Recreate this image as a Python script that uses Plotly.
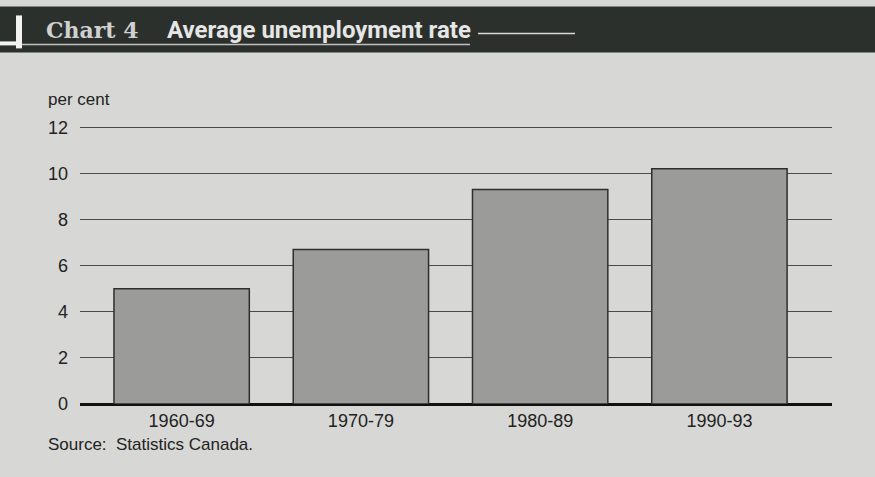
import plotly.graph_objects as go

# Data
periods = ["1960-69", "1970-79", "1980-89", "1990-93"]
rates = [5.0, 6.7, 9.3, 10.2]
y_ticks = [0, 2, 4, 6, 8, 10, 12]

W, H = 875, 477
YMAX = 12.1
L, R, B = 80, 832, 404  # plot area in pixels
T = B - YMAX * (404 - 127) / 12


def px(x):
    return (x - L) / (R - L)


def py(y):
    return (B - y) / (B - T)


bg = "#d7d7d5"
band = "#2c302c"

fig = go.Figure(go.Bar(
    x=periods, y=rates,
    marker=dict(color="#9b9b99", line=dict(color="#2e2e2e", width=1.5)),
    width=0.755,
))

shapes = [
    # dark header band
    dict(type="rect", xref="paper", yref="paper", x0=px(0), x1=px(W), y0=py(52), y1=py(6),
         fillcolor=band, line_width=0, layer="above"),
    # white bracket on the left
    dict(type="rect", xref="paper", yref="paper", x0=px(16), x1=px(22), y0=py(48), y1=py(15),
         fillcolor="#f2f2f2", line_width=0, layer="above"),
    dict(type="rect", xref="paper", yref="paper", x0=px(0), x1=px(22), y0=py(45), y1=py(41),
         fillcolor="#f2f2f2", line_width=0, layer="above"),
    # rule under the title
    dict(type="line", xref="paper", yref="paper", x0=px(22), x1=px(470), y0=py(44), y1=py(44),
         line=dict(color="#bfbfbf", width=1.5), layer="above"),
    dict(type="line", xref="paper", yref="paper", x0=px(478), x1=px(575), y0=py(33), y1=py(33),
         line=dict(color="#d8d8d8", width=1.5), layer="above"),
]

annotations = [
    dict(text="<b>Chart 4</b>", x=px(44), y=py(30), xref="paper", yref="paper",
         xanchor="left", yanchor="middle", showarrow=False,
         font=dict(family="DejaVu Serif", size=22, color="#d0d0d0")),
    dict(text="<b>Average unemployment rate</b>", x=px(165), y=py(30), xref="paper", yref="paper",
         xanchor="left", yanchor="middle", showarrow=False,
         font=dict(family="Liberation Sans Narrow, Roboto, Liberation Sans", size=24, color="#e6e6e6")),
    dict(text="per cent", x=px(46), y=py(99), xref="paper", yref="paper",
         xanchor="left", yanchor="middle", showarrow=False,
         font=dict(family="Liberation Sans, Arial", size=17, color="#222")),
    dict(text="Source:  Statistics Canada.", x=px(46), y=py(445), xref="paper", yref="paper",
         xanchor="left", yanchor="middle", showarrow=False,
         font=dict(family="Liberation Sans, Arial", size=17, color="#222")),
]

fig.update_layout(
    width=W, height=H,
    margin=dict(l=L, r=W - R, t=T, b=H - B, pad=0),
    paper_bgcolor=bg, plot_bgcolor=bg,
    showlegend=False,
    font=dict(family="Liberation Sans, Arial", size=17, color="#222"),
    shapes=shapes,
    annotations=annotations,
    xaxis=dict(
        range=[-0.567, 3.628], showgrid=False, zeroline=False, showline=False,
        ticks="", ticklabelstandoff=4, tickfont=dict(size=18, color="#222"),
    ),
    yaxis=dict(
        range=[0, YMAX], tickvals=y_ticks, showgrid=True, gridcolor="#4a4a4a", gridwidth=1.3,
        zeroline=True, zerolinecolor="#111", zerolinewidth=3, showline=False,
        ticks="", ticklabelstandoff=11, tickfont=dict(size=18, color="#222"),
    ),
)

fig.write_html("out.html", config={"displayModeBar": False},
               post_script="document.body.style.margin='0';")
